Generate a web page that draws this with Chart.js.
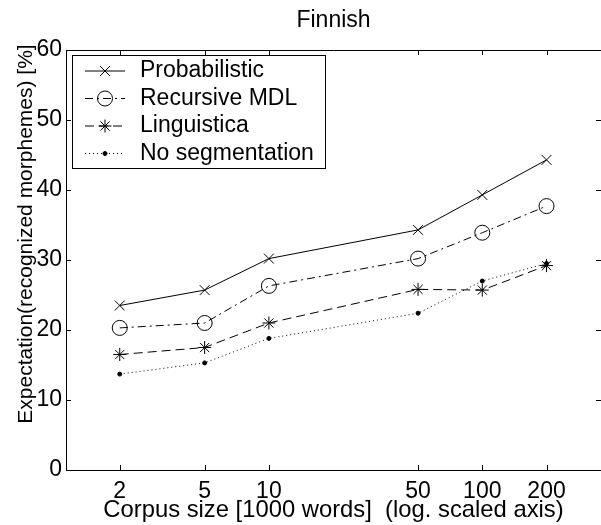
<!DOCTYPE html>
<html lang="en">
<head>
<meta charset="UTF-8">
<title>Finnish</title>
<script src="https://cdn.jsdelivr.net/npm/chart.js"></script>
<style>
  body { margin: 0; background: #fff; }
  #wrap { width: 601px; height: 525px; overflow: hidden; }
</style>
</head>
<body>
<div id="wrap"><canvas id="chart" width="601" height="525"></canvas></div>
<script>
// corpus size in thousands of words (log axis)
const corpusSize = [2, 5, 10, 50, 100, 200];
const probabilistic = [23.5, 25.7, 30.2, 34.3, 39.3, 44.3];
const recursiveMDL = [20.3, 21.0, 26.3, 30.2, 33.9, 37.7];
const linguistica = [16.5, 17.5, 21.0, 25.8, 25.7, 29.2];
const noSegmentation = [13.7, 15.3, 18.8, 22.4, 27.0, 29.5];
const xTickValues = [2, 5, 10, 50, 100, 200];

const FONT = 'Liberation Sans, Arial, Helvetica, sans-serif';
Chart.defaults.font.family = FONT;
Chart.defaults.color = '#000';

function pts(vals) {
    return corpusSize.map((c, i) => ({ x: c, y: vals[i] }));
}

// matlab-like box: top edge + inward ticks on all sides
const framePlugin = {
    id: 'frame',
    afterDraw(chart) {
        const { ctx, chartArea: a, scales: { x, y } } = chart;
        ctx.save();
        ctx.strokeStyle = '#000';
        ctx.lineWidth = 1;
        ctx.beginPath();
        ctx.moveTo(a.left, a.top + 0.5);
        ctx.lineTo(a.right, a.top + 0.5);
        x.ticks.forEach(t => {
            const px = Math.round(x.getPixelForValue(t.value)) + 0.5;
            ctx.moveTo(px, a.bottom); ctx.lineTo(px, a.bottom - 5);
            ctx.moveTo(px, a.top); ctx.lineTo(px, a.top + 5);
        });
        y.ticks.forEach(t => {
            const py = Math.round(y.getPixelForValue(t.value)) + 0.5;
            ctx.moveTo(a.left, py); ctx.lineTo(a.left + 5, py);
            ctx.moveTo(a.right, py); ctx.lineTo(a.right - 5, py);
        });
        ctx.stroke();
        ctx.restore();
    }
};

// titles
const textPlugin = {
    id: 'texts',
    afterDraw(chart) {
        const { ctx, chartArea: a } = chart;
        const cx = (a.left + a.right) / 2;
        ctx.save();
        ctx.fillStyle = '#000';
        ctx.textAlign = 'center';
        ctx.textBaseline = 'middle';
        ctx.font = '23px ' + FONT;
        ctx.fillText('Finnish', cx, 21);
        ctx.font = '23.8px ' + FONT;
        ctx.fillText('Corpus size [1000 words]  (log. scaled axis)', cx, 510);
        ctx.translate(26, 234);
        ctx.rotate(-Math.PI / 2);
        ctx.font = '21px ' + FONT;
        ctx.fillText('Expectation(recognized morphemes) [%]', 0, 0);
        ctx.restore();
    }
};

// legend box in upper left, samples drawn with the dataset styles
const legendPlugin = {
    id: 'boxLegend',
    afterDatasetsDraw(chart) {
        const { ctx } = chart;
        const helpers = Chart.helpers;
        ctx.save();
        ctx.fillStyle = '#fff';
        ctx.strokeStyle = '#000';
        ctx.lineWidth = 1;
        ctx.fillRect(72, 55, 253, 113);
        ctx.strokeRect(72.5, 55.5, 253, 113);
        chart.data.datasets.forEach((ds, i) => {
            const ry = 71 + i * 27.5;
            ctx.strokeStyle = '#000';
            ctx.lineWidth = 1;
            ctx.setLineDash(ds.borderDash || []);
            ctx.beginPath();
            ctx.moveTo(85, ry); ctx.lineTo(125, ry);
            ctx.stroke();
            ctx.setLineDash([]);
            ctx.fillStyle = ds.pointBackgroundColor;
            ctx.strokeStyle = '#000';
            helpers.drawPoint(ctx, {
                pointStyle: ds.pointStyle, rotation: 0,
                radius: ds.pointRadius, borderWidth: 1
            }, 105, ry);
            ctx.fillStyle = '#000';
            ctx.font = '23px ' + FONT;
            ctx.textAlign = 'left';
            ctx.textBaseline = 'middle';
            ctx.fillText(ds.label, 140, ry);
        });
        ctx.restore();
    }
};

new Chart(document.getElementById('chart'), {
    type: 'line',
    data: {
        datasets: [
            {
                label: 'Probabilistic', data: pts(probabilistic),
                borderColor: '#000', borderWidth: 1, borderDash: [],
                pointStyle: 'crossRot', pointRadius: 7,
                pointBorderColor: '#000', pointBackgroundColor: 'rgba(0,0,0,0)', pointBorderWidth: 1
            },
            {
                label: 'Recursive MDL', data: pts(recursiveMDL),
                borderColor: '#000', borderWidth: 1, borderDash: [8, 4, 2, 4],
                pointStyle: 'circle', pointRadius: 7.5,
                pointBorderColor: '#000', pointBackgroundColor: 'rgba(0,0,0,0)', pointBorderWidth: 1
            },
            {
                label: 'Linguistica', data: pts(linguistica),
                borderColor: '#000', borderWidth: 1, borderDash: [9, 5],
                pointStyle: 'star', pointRadius: 6.5,
                pointBorderColor: '#000', pointBackgroundColor: 'rgba(0,0,0,0)', pointBorderWidth: 1
            },
            {
                label: 'No segmentation', data: pts(noSegmentation),
                borderColor: '#000', borderWidth: 1, borderDash: [1, 3],
                pointStyle: 'circle', pointRadius: 2,
                pointBorderColor: '#000', pointBackgroundColor: '#000', pointBorderWidth: 1
            }
        ]
    },
    options: {
        responsive: false,
        animation: false,
        layout: { autoPadding: false, padding: { top: 50, left: 0, right: 0, bottom: 0 } },
        plugins: { legend: { display: false }, title: { display: false }, tooltip: { enabled: false } },
        elements: { line: { tension: 0, fill: false } },
        scales: {
            x: {
                type: 'logarithmic',
                min: 1.12, max: 360,
                grid: { display: false, drawTicks: false },
                border: { display: true, color: '#000', width: 1 },
                afterBuildTicks: s => { s.ticks = xTickValues.map(v => ({ value: v })); },
                afterFit: s => { s.height = 55; s.paddingLeft = 0; s.paddingRight = 0; },
                ticks: {
                    autoSkip: false, maxRotation: 0, padding: 8,
                    font: { size: 23 }, color: '#000',
                    callback: v => String(v)
                }
            },
            y: {
                min: 0, max: 60,
                grid: { display: false, drawTicks: false },
                border: { display: true, color: '#000', width: 1 },
                afterFit: s => { s.width = 66; s.paddingTop = 0; s.paddingBottom = 0; },
                ticks: { stepSize: 10, padding: 4, font: { size: 23 }, color: '#000' }
            }
        }
    },
    plugins: [framePlugin, legendPlugin, textPlugin]
});
</script>
</body>
</html>
